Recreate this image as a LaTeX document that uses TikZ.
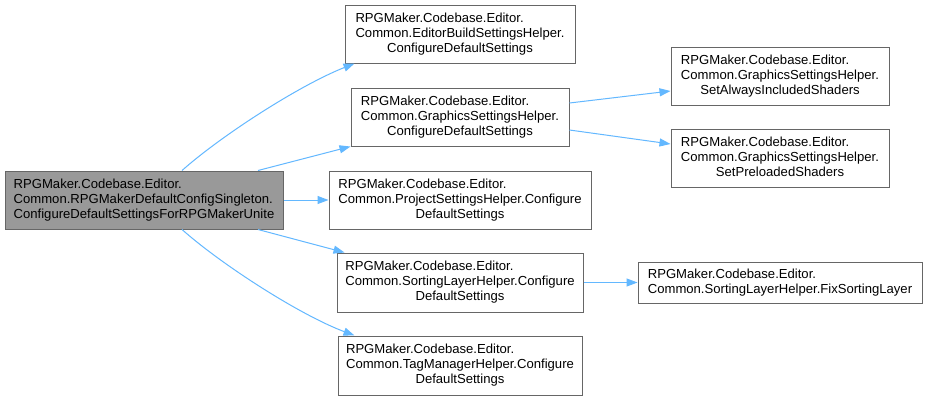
\documentclass[tikz,border=0pt]{standalone}
\usepackage{fontspec}
\setmainfont{Liberation Sans}
\usetikzlibrary{arrows.meta}
\definecolor{edgeblue}{HTML}{63B8FF}
\definecolor{boxborder}{HTML}{666666}
\definecolor{mainfill}{HTML}{999999}
\newcommand{\fnlines}[3]{\begin{tabular}{@{}l@{}}#1\\#2\\\multicolumn{1}{@{}c@{}}{#3}\end{tabular}}
\begin{document}
\begin{tikzpicture}[x=1pt,y=-1pt,
  fn/.style={draw=boxborder, line width=1pt, fill=white, inner sep=0pt, align=left,
    font=\fontsize{13.1}{15}\selectfont},
  mainfn/.style={fn, fill=mainfill},
  call/.style={draw=edgeblue, line width=1pt, -{Triangle[length=11pt,width=8pt]}, color=edgeblue}
]
\useasboundingbox (0,0) rectangle (927,400);
\fill[white] (0,0) rectangle (927,400);

\node[mainfn, minimum width=278pt, minimum height=58pt] (main) at (144,200)
  {\fnlines{RPGMaker.Codebase.Editor.}{Common.RPGMakerDefaultConfigSingleton.}{ConfigureDefaultSettingsForRPGMakerUnite}};
\node[fn, minimum width=230pt, minimum height=58pt] (editor) at (460,34)
  {\fnlines{RPGMaker.Codebase.Editor.}{Common.EditorBuildSettingsHelper.}{ConfigureDefaultSettings}};
\node[fn, minimum width=218pt, minimum height=58pt] (graphics) at (460,117)
  {\fnlines{RPGMaker.Codebase.Editor.}{Common.GraphicsSettingsHelper.}{ConfigureDefaultSettings}};
\node[fn, minimum width=218pt, minimum height=58pt] (always) at (780,76)
  {\fnlines{RPGMaker.Codebase.Editor.}{Common.GraphicsSettingsHelper.}{SetAlwaysIncludedShaders}};
\node[fn, minimum width=218pt, minimum height=58pt] (preloaded) at (780,158)
  {\fnlines{RPGMaker.Codebase.Editor.}{Common.GraphicsSettingsHelper.}{SetPreloadedShaders}};
\node[fn, minimum width=262pt, minimum height=58pt] (project) at (460,200)
  {\fnlines{RPGMaker.Codebase.Editor.}{Common.ProjectSettingsHelper.Configure}{DefaultSettings}};
\node[fn, minimum width=246pt, minimum height=59pt] (sorting) at (460,282.5)
  {\fnlines{RPGMaker.Codebase.Editor.}{Common.SortingLayerHelper.Configure}{DefaultSettings}};
\node[fn, minimum width=244pt, minimum height=59pt] (tag) at (460,365.5)
  {\fnlines{RPGMaker.Codebase.Editor.}{Common.TagManagerHelper.Configure}{DefaultSettings}};
\node[fn, minimum width=284pt, minimum height=41pt] (fix) at (780,282.5)
  {\begin{tabular}{@{}l@{}}RPGMaker.Codebase.Editor.\\Common.SortingLayerHelper.FixSortingLayer\end{tabular}};

\draw[call] ([xshift=38pt]main.north) .. controls (222,135) and (300,85) .. ([xshift=10pt]editor.south west);
\draw[call] ([xshift=114pt]main.north) -- (graphics.south west);
\draw[call] (main.east) -- (project.west);
\draw[call] ([xshift=114pt]main.south) -- ([xshift=8pt]sorting.north west);
\draw[call] ([xshift=38pt]main.south) .. controls (222,265) and (300,315) .. ([xshift=17pt]tag.north west);
\draw[call] ([yshift=14pt]graphics.east) -- ([yshift=-15pt]always.west);
\draw[call] ([yshift=-13pt]graphics.east) -- ([yshift=14pt]preloaded.west);
\draw[call] (sorting.east) -- (fix.west);
\end{tikzpicture}
\end{document}
